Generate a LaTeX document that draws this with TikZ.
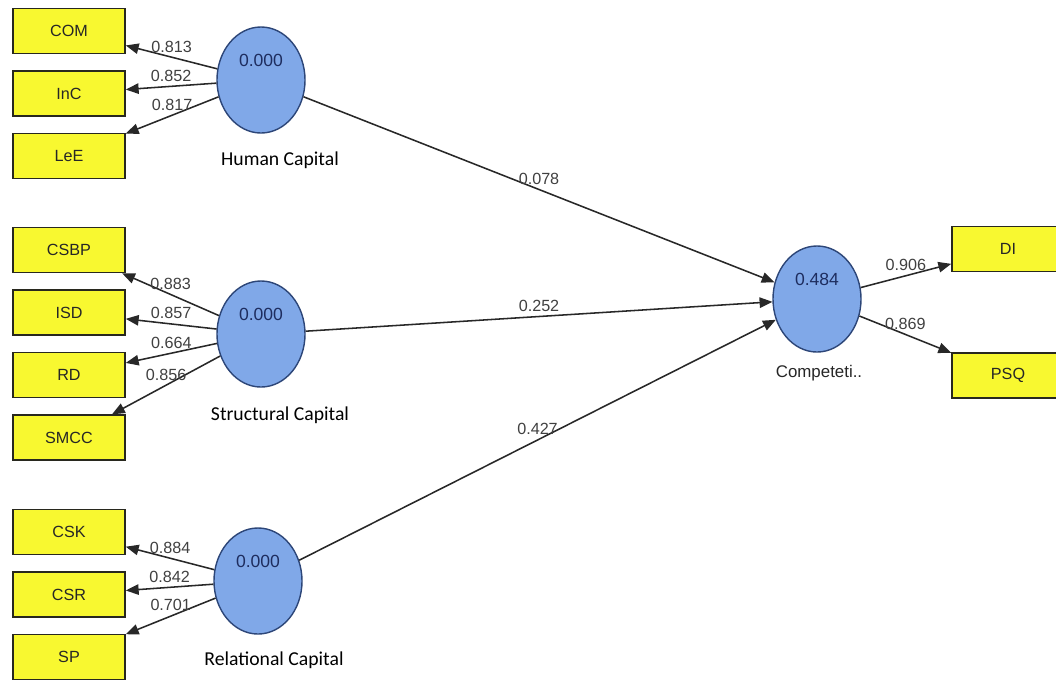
\documentclass[tikz,border=0pt]{standalone}
\usepackage{fontspec}
\setmainfont{Liberation Sans}
\newfontfamily\capfont{Carlito}
\usetikzlibrary{positioning, shapes.geometric, arrows}
\definecolor{boxyellow}{RGB}{248,248,48}
\definecolor{boxedge}{RGB}{40,40,30}
\definecolor{lvblue}{RGB}{128,168,232}
\definecolor{lvedge}{RGB}{45,70,120}
\definecolor{valnavy}{RGB}{30,45,95}
\definecolor{lineg}{RGB}{40,40,40}
\tikzstyle{indicator} = [rectangle,
minimum width=2.8cm,
minimum height=1.12cm,
text centered,
draw=boxedge,
line width=1.2pt,
fill=boxyellow,
text=black!85,
font=\fontsize{11.5}{13}\selectfont]
\tikzstyle{latent} = [ellipse,
minimum width=2.2cm,
minimum height=2.65cm,
draw=lvedge,
line width=1pt,
fill=lvblue]
\tikzstyle{lvvalue} = [text=valnavy, font=\fontsize{12.5}{14}\selectfont]
\tikzstyle{caption} = [font=\capfont\fontsize{14}{16}\selectfont]
\tikzstyle{weight} = [above=1pt, inner sep=2pt, text=black!75, font=\fontsize{11.5}{13}\selectfont]
\tikzstyle{arrow} = [line width=1.1pt, draw=lineg, ->, >=triangle 45]

\begin{document}
\begin{tikzpicture}[x=0.025cm, y=-0.025cm, node distance=1.5625cm]
        \useasboundingbox (0,0) rectangle (1056,680);
        % indicators
        \node (com) [indicator] at (69,31) {COM};
        \node (inc) [indicator, below of=com] {InC};
        \node (lee) [indicator, below of=inc] {LeE};
        \node (csbp) [indicator] at (69,250) {CSBP};
        \node (isd) [indicator, below of=csbp] {ISD};
        \node (rd) [indicator, below of=isd] {RD};
        \node (smcc) [indicator, below of=rd] {SMCC};
        \node (csk) [indicator] at (69,532) {CSK};
        \node (csr) [indicator, below of=csk] {CSR};
        \node (sp) [indicator, below of=csr] {SP};
        \node (di) [indicator] at (1008,249) {DI};
        \node (psq) [indicator, below of=di, yshift=-1.6cm] {PSQ};

        % latent variables
        \node (hc) [latent] at (261,80) {};
        \node (sc) [latent] at (261,334) {};
        \node (rc) [latent] at (258,581) {};
        \node (comp) [latent] at (817,299) {};
        \node (hcv) [lvvalue] at ([yshift=0.5cm]hc.center) {0.000};
        \node (scv) [lvvalue] at ([yshift=0.5cm]sc.center) {0.000};
        \node (rcv) [lvvalue] at ([yshift=0.5cm]rc.center) {0.000};
        \node (compv) [lvvalue] at ([yshift=0.5cm]comp.center) {0.484};
        \node (hcl) [caption] at (280,160) {Human Capital};
        \node (scl) [caption] at (280,415) {Structural Capital};
        \node (rcl) [caption] at (274,660) {Relational Capital};
        \node (compl) [font=\fontsize{12}{14}\selectfont, text=black!85] at (819,373) {Competeti..};

        % outer loadings
        \draw [arrow] (hc) -- node[weight] {0.813} (com);
        \draw [arrow] (hc) -- node[weight] {0.852} (inc);
        \draw [arrow] (hc) -- node[weight] {0.817} (lee);
        \draw [arrow] (sc) -- node[weight] {0.883} (csbp);
        \draw [arrow] (sc) -- node[weight] {0.857} (isd);
        \draw [arrow] (sc) -- node[weight] {0.664} (rd);
        \draw [arrow] (sc) -- node[weight] {0.856} (smcc);
        \draw [arrow] (rc) -- node[weight] {0.884} (csk);
        \draw [arrow] (rc) -- node[weight] {0.842} (csr);
        \draw [arrow] (rc) -- node[weight] {0.701} (sp);
        \draw [arrow] (comp) -- node[weight] {0.906} (di);
        \draw [arrow] (comp) -- node[weight] {0.869} (psq);

        % path coefficients
        \draw [arrow] (hc) -- node[weight] {0.078} (comp);
        \draw [arrow] (sc) -- node[weight] {0.252} (comp);
        \draw [arrow] (rc) -- node[weight] {0.427} (comp);
    \end{tikzpicture}
\end{document}
